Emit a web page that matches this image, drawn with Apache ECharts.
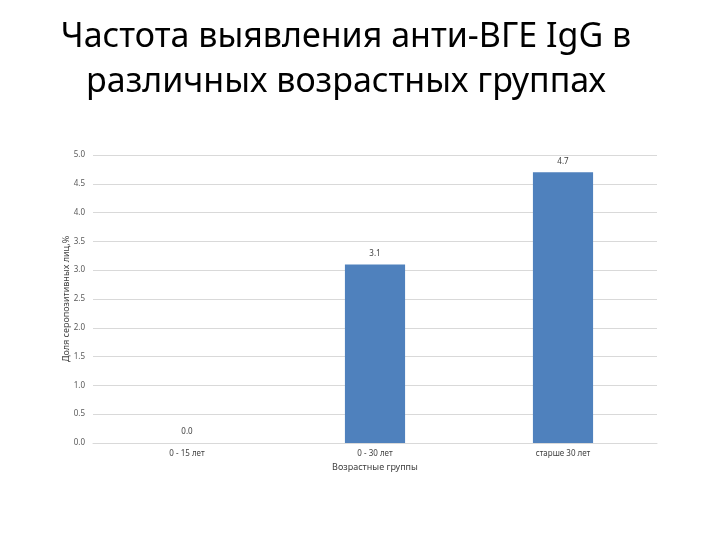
<!DOCTYPE html>
<html><head><meta charset="utf-8">
<script src="https://cdn.jsdelivr.net/npm/echarts@6/dist/echarts.min.js"></script>
<style>html,body{margin:0;padding:0;background:#fff}#c{width:720px;height:540px}</style>
</head><body><div id="c"></div>
<script>
const categories = ['0 - 15 лет', '0 - 30 лет', 'старше 30 лет'];
const values = [0.0, 3.1, 4.7];
const yTicks = { min: 0, max: 5, interval: 0.5 };
const titleText = 'Частота выявления анти-ВГЕ IgG в\nразличных возрастных группах';
const xName = 'Возрастные группы';
const yName = 'Доля серопозитивных лиц,%';

const chart = echarts.init(document.getElementById('c'));
chart.setOption({
  animation: false,
  title: {
    text: titleText, left: 341, top: 10, textAlign: 'center',
    textStyle: { fontFamily: 'Noto Sans', fontWeight: 'normal', fontSize: 34, lineHeight: 45, color: '#000' }
  },
  grid: { left: 93, right: 63, top: 155, bottom: 97 },
  xAxis: {
    type: 'category', data: categories,
    name: xName, nameLocation: 'middle', nameGap: 18,
    nameTextStyle: { fontFamily: 'Noto Sans', fontSize: 9, color: '#404040' },
    axisLine: { lineStyle: { color: '#d9d9d9' } },
    axisTick: { show: false },
    axisLabel: { fontFamily: 'Noto Sans', fontSize: 8, color: '#404040', margin: 7 }
  },
  yAxis: {
    type: 'value', min: yTicks.min, max: yTicks.max, interval: yTicks.interval,
    name: yName, nameLocation: 'middle', nameGap: 22, nameMoveOverlap: false,
    nameTextStyle: { fontFamily: 'Noto Sans', fontSize: 9, color: '#404040' },
    axisLine: { show: false }, axisTick: { show: false },
    axisLabel: { fontFamily: 'Noto Sans', fontSize: 8, color: '#595959', margin: 8, formatter: v => v.toFixed(1) },
    splitLine: { lineStyle: { color: '#d9d9d9' } }
  },
  series: [{
    type: 'bar', data: values, barWidth: '32%',
    itemStyle: { color: '#4F81BD' },
    label: { show: true, position: 'top', distance: 7, fontFamily: 'Noto Sans', fontSize: 8, color: '#404040', formatter: p => p.value.toFixed(1) }
  }]
});
</script></body></html>
